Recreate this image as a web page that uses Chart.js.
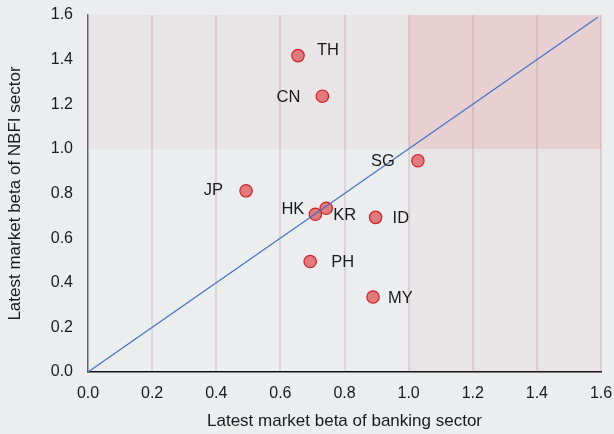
<!DOCTYPE html>
<html>
<head>
<meta charset="utf-8">
<script src="https://cdn.jsdelivr.net/npm/chart.js@4"></script>
<style>
  html, body { margin: 0; padding: 0; background: #ecedef; }
</style>
</head>
<body>
<canvas id="beta-chart" width="614" height="434"></canvas>
<script>
// Data
const countries = ['TH', 'CN', 'SG', 'JP', 'HK', 'KR', 'ID', 'PH', 'MY'];
const bankBeta = [0.655, 0.731, 1.029, 0.493, 0.709, 0.743, 0.897, 0.693, 0.889];
const nbfiBeta = [1.418, 1.236, 0.947, 0.812, 0.707, 0.734, 0.693, 0.495, 0.336];
const diagonal = [0, 1.59];
const axisMin = 0;
const axisMax = 1.6;
const axisStep = 0.2;
const threshold = 1.0;

// label placement next to each dot (px offset from the point)
const labelOffsets = [
    { dx: 19, dy: -5, align: 'left' },
    { dx: -22, dy: 1, align: 'right' },
    { dx: -23, dy: 1, align: 'right' },
    { dx: -23, dy: 0, align: 'right' },
    { dx: -11, dy: -5, align: 'right' },
    { dx: 7, dy: 7, align: 'left' },
    { dx: 17, dy: 1, align: 'left' },
    { dx: 21, dy: 1, align: 'left' },
    { dx: 15, dy: 1, align: 'left' }
];

const FONT = "'Liberation Sans', Arial, sans-serif";

// Shaded zones: beta above 1 on either axis
const zonesPlugin = {
    id: 'zones',
    beforeDatasetsDraw(chart) {
        const { ctx, chartArea, scales: { x, y } } = chart;
        const x1 = x.getPixelForValue(threshold);
        const y1 = y.getPixelForValue(threshold);
        ctx.save();
        ctx.fillStyle = 'rgba(200, 110, 110, 0.07)';
        ctx.fillRect(chartArea.left, chartArea.top, x1 - chartArea.left, y1 - chartArea.top);
        ctx.fillRect(x1, y1, chartArea.right - x1, chartArea.bottom - y1);
        ctx.fillStyle = 'rgba(210, 60, 70, 0.17)';
        ctx.fillRect(x1, chartArea.top, chartArea.right - x1, y1 - chartArea.top);
        // vertical grid on top of the shading
        ctx.strokeStyle = 'rgba(120, 60, 65, 0.13)';
        ctx.lineWidth = 2;
        for (let v = axisStep; v <= axisMax + 1e-9; v += axisStep) {
            const px = Math.round(x.getPixelForValue(v));
            ctx.beginPath();
            ctx.moveTo(px, chartArea.top);
            ctx.lineTo(px, chartArea.bottom);
            ctx.stroke();
        }
        ctx.restore();
    }
};

// Country labels
const labelsPlugin = {
    id: 'countryLabels',
    afterDatasetsDraw(chart) {
        const { ctx, scales: { x, y } } = chart;
        ctx.save();
        ctx.font = '16.5px ' + FONT;
        ctx.fillStyle = '#1a1a1a';
        ctx.textBaseline = 'middle';
        countries.forEach((c, i) => {
            const off = labelOffsets[i];
            ctx.textAlign = off.align;
            ctx.fillText(c, x.getPixelForValue(bankBeta[i]) + off.dx, y.getPixelForValue(nbfiBeta[i]) + off.dy);
        });
        ctx.restore();
    }
};

const ctx = document.getElementById('beta-chart');
new Chart(ctx, {
    type: 'scatter',
    data: {
        datasets: [
            {
                type: 'line',
                label: '45 degree',
                data: diagonal.map(v => ({ x: v, y: v })),
                borderColor: '#4472c4',
                borderWidth: 1.2,
                pointRadius: 0,
                fill: false,
                order: 0
            },
            {
                label: 'Countries',
                data: countries.map((c, i) => ({ x: bankBeta[i], y: nbfiBeta[i] })),
                backgroundColor: '#e07a7d',
                borderColor: '#d0202a',
                borderWidth: 1.2,
                pointRadius: 6.2,
                order: 1
            }
        ]
    },
    options: {
        responsive: false,
        animation: false,
        layout: { padding: { top: 15, right: 13, left: 0, bottom: 0 } },
        plugins: { legend: { display: false }, tooltip: { enabled: false } },
        scales: {
            x: {
                type: 'linear',
                min: axisMin,
                max: axisMax,
                afterFit(s) { s.height = 62; },
                border: { color: '#111', width: 1.5 },
                grid: { display: false, drawTicks: true, tickLength: 11 },
                ticks: {
                    stepSize: axisStep,
                    padding: 1,
                    color: '#1a1a1a',
                    font: { family: FONT, size: 16 },
                    callback: v => Number(v).toFixed(1)
                },
                title: {
                    display: true,
                    text: 'Latest market beta of banking sector',
                    color: '#1a1a1a',
                    font: { family: FONT, size: 17 },
                    padding: { top: 0, bottom: 2 }
                }
            },
            y: {
                type: 'linear',
                min: axisMin,
                max: axisMax,
                afterFit(s) { s.width = 88; },
                border: { color: '#666', width: 1.5 },
                grid: { display: false, drawTicks: true, tickLength: 14 },
                ticks: {
                    stepSize: axisStep,
                    padding: 1,
                    color: '#1a1a1a',
                    font: { family: FONT, size: 16 },
                    callback: v => Number(v).toFixed(1)
                },
                title: {
                    display: true,
                    text: 'Latest market beta of NBFI sector',
                    color: '#1a1a1a',
                    font: { family: FONT, size: 17 },
                    padding: { top: 5, bottom: 0 }
                }
            }
        }
    },
    plugins: [zonesPlugin, labelsPlugin]
});
</script>
</body>
</html>
